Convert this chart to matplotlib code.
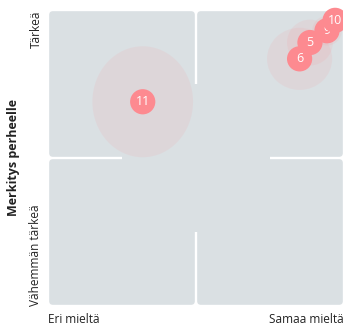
import matplotlib.pyplot as plt
from matplotlib.patches import FancyBboxPatch, Rectangle, Ellipse

plt.rcParams['font.family'] = ['Open Sans', 'DejaVu Sans']

# arvot: x = samaa mieltä (-1..1), y = merkitys perheelle (-1..1)
ids = [11, 6, 5, 9, 10]
agree = [-0.36, 0.70, 0.77, 0.885, 0.94]
importance = [0.38, 0.67, 0.78, 0.86, 0.93]
spread_x = [0.68, 0.44, 0.31, 0.20, 0.12]
spread_y = [0.75, 0.42, 0.31, 0.20, 0.12]

x_ticklabels = ["Eri mieltä", "Samaa mieltä"]
y_ticklabels = ["Vähemmän tärkeä", "Tärkeä"]
y_title = "Merkitys perheelle"

bg = "#dae0e3"
dot = "#fd8a90"

W, H = 343, 328
fig = plt.figure(figsize=(W / 100, H / 100), dpi=100)
ax = fig.add_axes([48 / W, (H - 306) / H, 296 / W, 296 / H])
ax.set_xlim(-1, 1)
ax.set_ylim(-1, 1)
for s in ax.spines.values():
    s.set_visible(False)

# neljännekset pyöristetyin kulmin + keskialue
gap = 0.008
for x0, y0 in [(-1, -1), (0, -1), (-1, 0), (0, 0)]:
    ax.add_patch(FancyBboxPatch((x0 + gap, y0 + gap), 1 - 2 * gap, 1 - 2 * gap,
                                boxstyle="round,pad=0,rounding_size=0.025",
                                fc=bg, ec="none", zorder=0))
ax.add_patch(Rectangle((-0.5, -0.5), 1, 1, fc=bg, ec="none", zorder=0))

# hajonta
for x, y, sx, sy in zip(agree, importance, spread_x, spread_y):
    ax.add_patch(Ellipse((x, y), sx, sy, fc=dot, ec="none", alpha=0.11, zorder=1))

# pisteet
for i, (n, x, y) in enumerate(zip(ids, agree, importance)):
    ax.scatter([x], [y], s=330, color=dot, edgecolors="none", zorder=3 + 2 * i, clip_on=False)
    ax.text(x, y, str(n), color="white", fontsize=9, ha="center", va="center",
            zorder=4 + 2 * i, clip_on=False)

ax.set_xticks([-1, 1])
ax.set_xticklabels(x_ticklabels, fontsize=8.5, color="#222222")
ax.get_xticklabels()[0].set_ha("left")
ax.get_xticklabels()[1].set_ha("right")
ax.tick_params(axis="x", length=0, pad=5)

ax.set_yticks([-1, 1])
ax.set_yticklabels(y_ticklabels, fontsize=8.5, color="#222222", rotation=90)
ax.get_yticklabels()[0].set_va("bottom")
ax.get_yticklabels()[1].set_va("top")
ax.tick_params(axis="y", length=0, pad=4)

ax.set_ylabel(y_title, fontsize=9, fontweight="bold", color="#222222", labelpad=7)

fig.savefig("out.png", dpi=100)
